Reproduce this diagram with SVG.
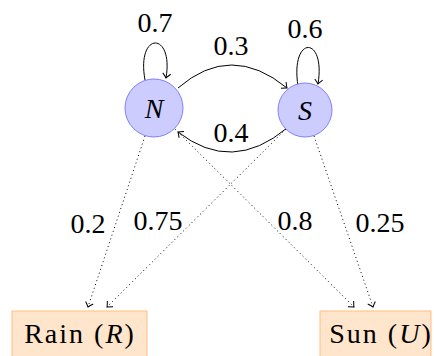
<svg xmlns="http://www.w3.org/2000/svg" width="434" height="356" viewBox="0 0 434 356">
<defs>
<style>
.state{fill:#ccccff;stroke:#8080ff;stroke-width:1}
.obs{fill:#ffe5cc;stroke:#ffbf80;stroke-width:1}
.edge{fill:none;stroke:#000;stroke-width:1}
.dot{fill:none;stroke:#000;stroke-width:1;stroke-dasharray:1 3}
.lbl{font-family:'Liberation Serif',serif;font-size:28px;fill:#000;text-anchor:middle}
.math{font-style:italic}
.box{letter-spacing:2px}
</style>
<marker id="to" markerWidth="12" markerHeight="12" refX="0" refY="0" viewBox="-6 -6 12 12" orient="auto" markerUnits="userSpaceOnUse">
<path d="M-4.5,-4 Q-1.2,-0.8 0,0 Q-1.2,0.8 -4.5,4" fill="none" stroke="#000" stroke-width="1"/>
</marker>
</defs>
<rect width="434" height="356" fill="#fff"/>
<g id="connectors">
<path class="edge" d="M145,80 C136,31 174,31 166,78" marker-end="url(#to)"/>
<path class="edge" d="M298,86 C290,35 326,35 318,84" marker-end="url(#to)"/>
<path class="edge" d="M178,88 Q231,42 287,88" marker-end="url(#to)"/>
<path class="edge" d="M287,128 Q232,174 178,132" marker-end="url(#to)"/>
<path class="dot" d="M145,136 L88,307" marker-end="url(#to)"/>
<path class="dot" d="M286,129 L107,307" marker-end="url(#to)"/>
<path class="dot" d="M175,129 L354,307" marker-end="url(#to)"/>
<path class="dot" d="M314,136 L373,307" marker-end="url(#to)"/>
<text class="lbl" x="155" y="32">0.7</text>
<text class="lbl" x="305" y="38">0.6</text>
<text class="lbl" x="231" y="55">0.3</text>
<text class="lbl" x="231" y="142">0.4</text>
<text class="lbl" x="88" y="233">0.2</text>
<text class="lbl" x="158" y="230">0.75</text>
<text class="lbl" x="295" y="230">0.8</text>
<text class="lbl" x="380" y="232">0.25</text>
</g>
<g id="N">
<circle class="state" cx="154" cy="108" r="29"/>
<text class="lbl math" x="154" y="118">N</text>
</g>
<g id="S">
<circle class="state" cx="305" cy="110" r="27"/>
<text class="lbl math" x="305" y="120">S</text>
</g>
<g id="R">
<rect class="obs" x="12" y="311" width="135" height="50"/>
<text class="lbl box" x="80" y="343">Rain (<tspan class="math">R</tspan>)</text>
</g>
<g id="U">
<rect class="obs" x="320" y="311" width="111" height="50"/>
<text class="lbl box" x="381" y="343">Sun (<tspan class="math">U</tspan>)</text>
</g>
</svg>
